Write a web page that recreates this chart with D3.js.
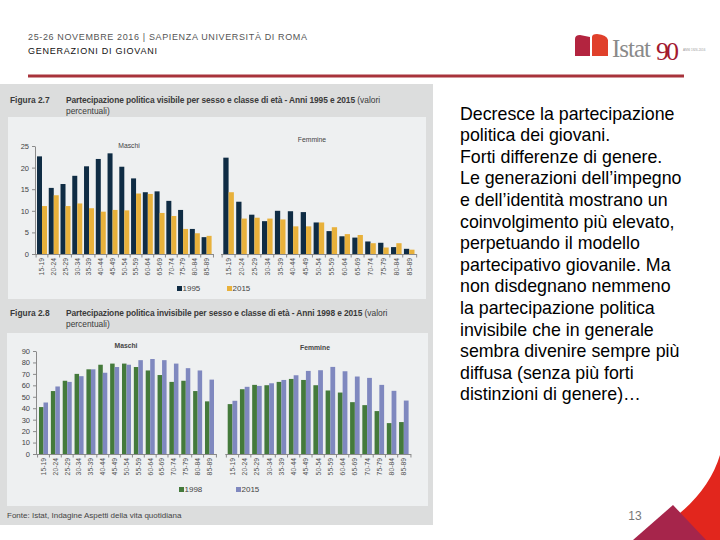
<!DOCTYPE html>
<html>
<head>
<meta charset="utf-8">
<script src="https://cdn.jsdelivr.net/npm/d3@7"></script>
<style>
  body { margin: 0; background: #fff; }
  svg { display: block; font-family: "Liberation Sans", Arial, sans-serif; }
</style>
</head>
<body>
<svg id="slide" width="720" height="540"></svg>
<script>
// age classes shared by both figures
const ageGroups = ["15-19", "20-24", "25-29", "30-34", "35-39", "40-44", "45-49", "50-54",
  "55-59", "60-64", "65-69", "70-74", "75-79", "80-84", "85-89"]

// Figura 2.7 - partecipazione visibile
const visMaschi1995 = [22.6, 15.3, 16.2, 18.1, 20.3, 22.0, 23.3, 20.2, 17.5, 14.3, 14.5, 12.3, 10.2, 5.8, 3.9]
const visMaschi2015 = [11.1, 13.6, 11.1, 11.7, 10.6, 9.8, 10.2, 10.1, 14.0, 13.9, 9.5, 8.8, 5.8, 4.8, 4.2]
const visFemmine1995 = [22.3, 12.1, 9.1, 7.6, 10.0, 9.9, 9.7, 7.3, 5.3, 4.1, 3.8, 2.9, 2.6, 1.6, 1.2]
const visFemmine2015 = [14.3, 8.2, 8.4, 8.2, 8.0, 6.4, 6.4, 7.3, 6.2, 4.6, 4.4, 2.5, 1.5, 2.5, 1.0]
const visTicks = [0, 5, 10, 15, 20, 25]

// Figura 2.8 - partecipazione invisibile
const invMaschi1998 = [41, 55, 64, 70, 74, 78, 79, 79, 76, 73, 69, 63, 64, 55, 46]
const invMaschi2015 = [45, 59, 63, 68, 74, 71, 76, 78, 82, 83, 82, 79, 75, 73, 65]
const invFemmine1998 = [43.6, 56.6, 60.4, 60.1, 63.0, 65.6, 64.7, 60.1, 55.5, 53.7, 45.3, 42.7, 37.5, 27.0, 27.9]
const invFemmine2015 = [46.5, 58.7, 59.5, 61.8, 64.7, 68.8, 72.6, 73.2, 76.1, 72.3, 67.7, 66.5, 60.4, 55.2, 46.7]
const invTicks = [0, 10, 20, 30, 40, 50, 60, 70, 80, 90]

const bodyLines = [
  "Decresce la partecipazione",
  "politica dei giovani.",
  "Forti differenze di genere.",
  "Le generazioni dell\u2019impegno",
  "e dell\u2019identit\u00e0 mostrano un",
  "coinvolgimento pi\u00f9 elevato,",
  "perpetuando il modello",
  "partecipativo giovanile. Ma",
  "non disdegnano nemmeno",
  "la partecipazione politica",
  "invisibile che in generale",
  "sembra divenire sempre pi\u00f9",
  "diffusa (senza pi\u00f9 forti",
  "distinzioni di genere)\u2026"
]

const svg = d3.select("#slide")

// ---- header
svg.append("text").attr("x", 28).attr("y", 40).attr("font-size", 9).attr("fill", "#555")
  .attr("textLength", 279).text("25-26 NOVEMBRE 2016 | SAPIENZA UNIVERSIT\u00c0 DI ROMA")
svg.append("text").attr("x", 28).attr("y", 54).attr("font-size", 9).attr("fill", "#111")
  .attr("textLength", 129).text("GENERAZIONI DI GIOVANI")
svg.append("rect").attr("x", 28).attr("y", 74.5).attr("width", 656).attr("height", 3).attr("fill", "#a8333b")

// logo
const logo = svg.append("g")
logo.append("path").attr("d", "M575,56 L575,39 Q575,35 580,35 L590,37 L590,56 Z").attr("fill", "#b3243f")
logo.append("path").attr("d", "M592,56 L592,37 Q592,34 597,34 Q607,35 608,40 L608,56 Z").attr("fill", "#e0402b")
logo.append("text").attr("x", 612).attr("y", 57).attr("font-family", "Liberation Serif, serif")
  .attr("font-size", 25).attr("fill", "#8a8a8a").attr("letter-spacing", -1).text("Istat")
logo.append("text").attr("x", 656).attr("y", 60).attr("font-family", "Liberation Serif, serif")
  .attr("font-size", 26).attr("fill", "#a3192f").attr("letter-spacing", -3).text("90")
logo.append("text").attr("x", 683).attr("y", 51).attr("font-size", 3).attr("fill", "#999").text("ANNI 1926-2016")

// ---- left picture (two figures)
svg.append("rect").attr("x", 0).attr("y", 84).attr("width", 433).attr("height", 441).attr("fill", "#dcdddd")
svg.append("rect").attr("x", 8).attr("y", 117).attr("width", 418).attr("height", 182).attr("fill", "#eef0f1")
svg.append("rect").attr("x", 7).attr("y", 333).attr("width", 421).attr("height", 173).attr("fill", "#eef0f1")

function figTitle(y, num, bold) {
  const t = svg.append("text").attr("y", y).attr("font-size", 8.4).attr("fill", "#3a3a3a")
  t.append("tspan").attr("x", 10).attr("font-weight", "bold").text("Figura " + num)
  t.append("tspan").attr("x", 66).attr("font-weight", "bold").attr("letter-spacing", -0.1).text(bold)
  t.append("tspan").text(" (valori")
  svg.append("text").attr("x", 66).attr("y", y + 11).attr("font-size", 8.4).attr("fill", "#3a3a3a")
    .text("percentuali)")
}
figTitle(103, "2.7", "Partecipazione politica visibile per sesso e classe di et\u00e0 - Anni 1995 e 2015")
figTitle(316, "2.8", "Partecipazione politica invisibile per sesso e classe di et\u00e0 - Anni 1998 e 2015")

function drawGroup(cfg) {
  const g = svg.append("g")
  const x = d3.scaleBand().domain(ageGroups).range(cfg.range).paddingInner(cfg.pad).paddingOuter(0)
  const sub = d3.scaleBand().domain([0, 1]).range([0, x.bandwidth()])
  const y = cfg.y
  const half = x.step() * cfg.pad / 2

  ageGroups.forEach((a, i) => {
    [cfg.a, cfg.b].forEach((series, k) => {
      g.append("rect")
        .attr("x", x(a) + sub(k))
        .attr("y", y(series[i]))
        .attr("width", sub.bandwidth())
        .attr("height", y(0) - y(series[i]))
        .attr("fill", cfg.colors[k])
    })
  })

  // category axis
  const x0 = cfg.axisStart != null ? cfg.axisStart : x(ageGroups[0]) - half - 1
  const x1 = x(ageGroups[ageGroups.length - 1]) + x.bandwidth() + half + 1
  g.append("line").attr("x1", x0).attr("x2", x1).attr("y1", y(0) + 0.5).attr("y2", y(0) + 0.5)
    .attr("stroke", "#8a8a8a").attr("stroke-width", 1)
  ageGroups.forEach(a => {
    const bx = x(a) - half
    g.append("line").attr("x1", bx).attr("x2", bx).attr("y1", y(0)).attr("y2", y(0) + 3.5)
      .attr("stroke", "#8a8a8a")
    g.append("text")
      .attr("transform", `translate(${x(a) + x.bandwidth() / 2 + 2.4},${y(0) + 4}) rotate(-90)`)
      .attr("text-anchor", "end").attr("font-size", 6.8).attr("fill", "#555").text(a)
  })
  g.append("line").attr("x1", x1).attr("x2", x1).attr("y1", y(0)).attr("y2", y(0) + 3.5).attr("stroke", "#8a8a8a")

  g.append("text").attr("x", cfg.titleX).attr("y", cfg.titleY).attr("text-anchor", "middle")
    .attr("font-size", 6.8).attr("fill", "#444").attr("font-weight", cfg.titleBold ? "bold" : "normal")
    .text(cfg.title)
}

function drawYAxis(y, ticks, xPos) {
  const ax = svg.append("g").attr("transform", `translate(${xPos},0)`)
    .call(d3.axisLeft(y).tickValues(ticks).tickSize(3).tickPadding(3).tickSizeOuter(0))
  ax.select(".domain").attr("stroke", "#8a8a8a")
  ax.selectAll(".tick line").attr("stroke", "#8a8a8a")
  ax.selectAll("text").attr("font-size", 7.5).attr("fill", "#444").attr("font-family", "Liberation Sans, Arial, sans-serif")
}

function legend(xPos, yPos, color, label) {
  svg.append("rect").attr("x", xPos).attr("y", yPos - 5).attr("width", 5).attr("height", 5).attr("fill", color)
  svg.append("text").attr("x", xPos + 5.5).attr("y", yPos).attr("font-size", 8).attr("fill", "#444").text(label)
}

// Figura 2.7
const yVis = d3.scaleLinear().domain([0, 25]).range([254, 146])
drawYAxis(yVis, visTicks, 35)
drawGroup({ range: [37, 211.6], pad: 0.15, y: yVis, a: visMaschi1995, b: visMaschi2015,
  colors: ["#0f2c44", "#e8b13b"], title: "Maschi", titleX: 129, titleY: 148, axisStart: 35 })
drawGroup({ range: [223.3, 414.5], pad: 0.18, y: yVis, a: visFemmine1995, b: visFemmine2015,
  colors: ["#0f2c44", "#e8b13b"], title: "Femmine", titleX: 312, titleY: 142 })
legend(177, 291, "#0f2c44", "1995")
legend(227, 291, "#e8b13b", "2015")

// Figura 2.8
const yInv = d3.scaleLinear().domain([0, 90]).range([454, 351])
drawYAxis(yInv, invTicks, 36)
drawGroup({ range: [39, 214], pad: 0.24, y: yInv, a: invMaschi1998, b: invMaschi2015,
  colors: ["#447a3b", "#7f88bf"], title: "Maschi", titleX: 126, titleY: 348, axisStart: 36, titleBold: true })
drawGroup({ range: [227.7, 408.6], pad: 0.22, y: yInv, a: invFemmine1998, b: invFemmine2015,
  colors: ["#447a3b", "#7f88bf"], title: "Femmine", titleX: 315, titleY: 350, titleBold: true })
legend(179, 492, "#447a3b", "1998")
legend(236, 492, "#7f88bf", "2015")

svg.append("text").attr("x", 7).attr("y", 518).attr("font-size", 8).attr("fill", "#444")
  .text("Fonte: Istat, Indagine Aspetti della vita quotidiana")

// ---- body text
const body = svg.append("text").attr("font-size", 17.8).attr("fill", "#000")
bodyLines.forEach((l, i) => {
  body.append("tspan").attr("x", 460).attr("y", 119.5 + i * 21.6).text(l)
})

// ---- bottom-right decoration
svg.append("path").attr("d", "M720,455 Q705,505 640,540 L720,540 Z").attr("fill", "#e2261d")
svg.append("path").attr("d", "M673,505 L633,540 L706,540 Z").attr("fill", "#a6254b")
svg.append("text").attr("x", 635).attr("y", 520).attr("text-anchor", "middle").attr("font-size", 12)
  .attr("fill", "#777").text("13")
</script>
</body>
</html>
